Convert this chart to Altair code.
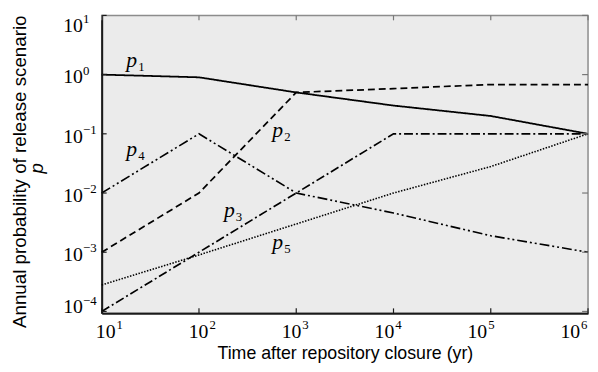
import altair as alt
import pandas as pd

# ---- data ----
years = [10, 100, 1000, 10000, 100000, 1000000]
p1 = [1.0, 0.9, 0.5, 0.3, 0.2, 0.1]
p2 = [1e-3, 1e-2, 0.5, 0.58, 0.68, 0.68]
p3 = [1e-4, 1e-3, 1e-2, 0.1, 0.1, 0.1]
p4 = [1e-2, 0.1, 1e-2, 4.6e-3, 1.9e-3, 1e-3]
p5 = [2.8e-4, 9e-4, 3e-3, 1e-2, 2.8e-2, 0.1]
series_names = ["p1", "p2", "p3", "p4", "p5"]

label_subs = ["1", "2", "3", "4", "5"]
label_x = [17.9, 568, 181, 17.9, 568]
label_y = [1.36, 0.089, 0.00398, 0.0414, 0.00112]

x_ticks = [10, 100, 1000, 10000, 100000, 1000000]
x_exps = ["1", "2", "3", "4", "5", "6"]
y_ticks = [1e-4, 1e-3, 1e-2, 1e-1, 1, 10]
y_exps = ["\u22124", "\u22123", "\u22122", "\u22121", "0", "1"]

x_title = "Time after repository closure (yr)"
y_title = "Annual probability of release scenario"

W, H = 493, 302
DEC_X = W / 5.0      # pixels per decade on x
DEC_Y = 60.0         # pixels per decade on y

rows = []
for name, vals in zip(series_names, [p1, p2, p3, p4, p5]):
    for yr, v in zip(years, vals):
        rows.append({"series": name, "year": yr, "prob": v})
df = pd.DataFrame(rows)

xscale = alt.Scale(type="log", domain=[10, 1e6], nice=False)
yscale = alt.Scale(type="log", domain=[9.3e-5, 10], nice=False)

xaxis = alt.Axis(title=x_title, labels=False, ticks=False, grid=False,
                 domainColor="#1a1a1a", domainWidth=2,
                 titleFont="Liberation Sans", titleFontSize=18,
                 titleFontWeight="normal", titleColor="black",
                 titleX=W / 2, titleY=46, titleAlign="center",
                 titleBaseline="alphabetic")
yaxis = alt.Axis(title=y_title, labels=False, ticks=False, grid=False,
                 domainColor="#1a1a1a", domainWidth=2,
                 titleFont="Liberation Sans", titleFontSize=19,
                 titleFontWeight="normal", titleColor="black",
                 titleAngle=270, titleX=-77, titleY=158,
                 titleAlign="center", titleBaseline="alphabetic")


def X(field):
    return alt.X(field, scale=xscale, axis=xaxis)


def Y(field):
    return alt.Y(field, scale=yscale, axis=yaxis)


dash_range = [[1, 0], [7, 4], [9, 3, 2, 3], [10, 3, 2, 3, 2, 3], [1.5, 1.5]]
width_range = [1.8, 1.6, 1.6, 1.6, 1.2]

lines = alt.Chart(df).mark_line(color="black").encode(
    x=X("year:Q"),
    y=Y("prob:Q"),
    detail="series:N",
    strokeDash=alt.StrokeDash("series:N", scale=alt.Scale(domain=series_names, range=dash_range), legend=None),
    strokeWidth=alt.StrokeWidth("series:N", scale=alt.Scale(domain=series_names, range=width_range), legend=None),
)

lab_df = pd.DataFrame({"sub": label_subs, "lx": label_x, "ly": label_y})
lab_p = alt.Chart(lab_df).mark_text(
    text="p", font="Liberation Serif", fontStyle="italic", fontSize=22,
    align="left", baseline="alphabetic", color="black"
).encode(x=X("lx:Q"), y=Y("ly:Q"))
lab_sub = alt.Chart(lab_df).mark_text(
    font="Liberation Serif", fontSize=13, align="left", baseline="alphabetic",
    color="black", dx=12, dy=4
).encode(x=X("lx:Q"), y=Y("ly:Q"), text="sub:N")

# ---- tick labels (positions shifted a little, as in the reference) ----
xt = pd.DataFrame({"v": x_ticks, "e": x_exps})
xbase = alt.Chart(xt).transform_calculate(
    xl=f"datum.v * pow(10, (4 - 4.4 * (log(datum.v) / LN10 - 1)) / {DEC_X})"
)
x_ten = xbase.mark_text(text="10", font="Liberation Serif", fontSize=20,
                        align="center", baseline="alphabetic", color="black").encode(
    x=X("xl:Q"), y=alt.value(H + 25))
x_exp = xbase.mark_text(font="Liberation Serif", fontSize=13, dx=11,
                        align="left", baseline="alphabetic", color="black").encode(
    x=X("xl:Q"), y=alt.value(H + 16), text="e:N")

yt = pd.DataFrame({"v": y_ticks, "e": y_exps})
ybase = alt.Chart(yt).transform_calculate(
    yl=f"datum.v * pow(10, -(datum.v >= 10 ? 8 : (datum.v <= 0.0001 ? -7 : 0)) / {DEC_Y})"
)
y_ten = ybase.mark_text(text="10", font="Liberation Serif", fontSize=20, dy=9,
                        align="left", baseline="alphabetic", color="black").encode(
    y=Y("yl:Q"), x=alt.value(-39))
y_exp = ybase.mark_text(font="Liberation Serif", fontSize=13,
                        align="left", baseline="alphabetic", color="black").encode(
    y=Y("yl:Q"), x=alt.value(-19), text="e:N")

# ---- inward ticks ----
left_ticks = alt.Chart(yt).mark_rule(color="#1a1a1a", strokeWidth=1.2).encode(
    y=Y("v:Q"), x=alt.value(0), x2=alt.value(5))
right_ticks = alt.Chart(yt).mark_rule(color="#777", strokeWidth=1.2).encode(
    y=Y("v:Q"), x=alt.value(W - 6), x2=alt.value(W))
bottom_ticks = alt.Chart(xt).mark_rule(color="#1a1a1a", strokeWidth=1.2).encode(
    x=X("v:Q"), y=alt.value(H), y2=alt.value(H - 5))
top_ticks = alt.Chart(xt).mark_rule(color="#777", strokeWidth=1.2).encode(
    x=X("v:Q"), y=alt.value(0), y2=alt.value(5))

# ---- italic p under the y title ----
yp = alt.Chart(pd.DataFrame({"t": ["p"]})).mark_text(
    font="Liberation Sans", fontStyle="italic", fontSize=19, angle=270,
    align="center", baseline="alphabetic", color="black"
).encode(text="t:N", x=alt.value(-60), y=alt.value(155))

chart = alt.layer(
    lines, lab_p, lab_sub, x_ten, x_exp, y_ten, y_exp,
    left_ticks, right_ticks, bottom_ticks, top_ticks, yp
).properties(
    width=W, height=H,
    autosize=alt.AutoSizeParams(type="none"),
    padding={"left": 95, "top": 5, "right": 2, "bottom": 57},
).configure_view(fill="#ebebeb", stroke="#8c8c8c", strokeWidth=1.5)

chart.save("out.html", embed_options={"renderer": "svg", "actions": False})
